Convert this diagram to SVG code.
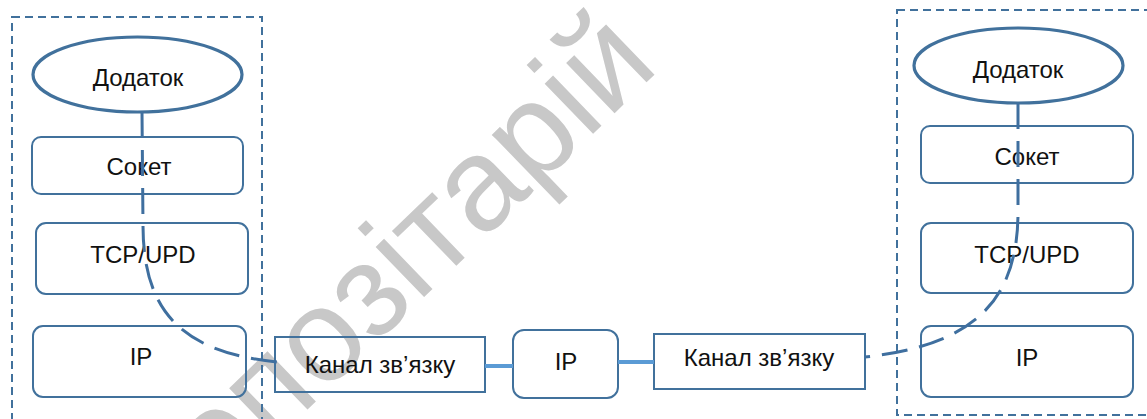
<svg xmlns="http://www.w3.org/2000/svg" width="1147" height="419" viewBox="0 0 1147 419">
  <style>
    .frame { fill: none; stroke: #41719c; stroke-width: 2; stroke-dasharray: 8 5; }
    .app { fill: none; stroke: #41719c; stroke-width: 3.2; }
    .layer { fill: none; stroke: #41719c; stroke-width: 2; }
    .chan { fill: none; stroke: #41719c; stroke-width: 2; }
    .lbl { font-family: "Liberation Sans", Arial, sans-serif; font-size: 24px; fill: #111; text-anchor: middle; }
    .path { fill: none; stroke: #3f6f9f; stroke-width: 3; stroke-dasharray: 26 12; }
    .link { fill: none; stroke: #5b9bd5; stroke-width: 4; }
    .mark { font-family: "Liberation Sans", Arial, sans-serif; font-size: 132px; fill: #c8c8c8; }
  </style>

  <!-- background watermark -->
  <text class="mark" transform="translate(159 553) rotate(-44)">Репозітарій</text>

  <!-- host frames -->
  <rect id="host-left" class="frame" x="12" y="17" width="250" height="420"/>
  <rect id="host-right" class="frame" x="897" y="10" width="260" height="405"/>

  <!-- left stack -->
  <g id="app-left">
    <ellipse class="app" cx="137.5" cy="74.5" rx="104.5" ry="37.5"/>
    <text class="lbl" x="138" y="86">Додаток</text>
  </g>
  <g id="socket-left">
    <rect class="layer" x="32" y="137" width="211" height="57" rx="9"/>
    <text class="lbl" x="139" y="175">Сокет</text>
  </g>
  <g id="tcp-left">
    <rect class="layer" x="36" y="223" width="212" height="71" rx="10"/>
    <text class="lbl" x="143" y="263">TCP/UPD</text>
  </g>
  <g id="ip-left">
    <rect class="layer" x="33" y="326" width="213" height="71" rx="10"/>
    <text class="lbl" x="141" y="365">IP</text>
  </g>

  <!-- network path -->
  <g id="channel-1">
    <rect class="chan" x="275" y="337" width="210" height="55"/>
    <text class="lbl" x="380" y="373">Канал зв’язку</text>
  </g>
  <g id="ip-router">
    <rect class="layer" x="513" y="330" width="105" height="68" rx="11"/>
    <text class="lbl" x="566" y="370">IP</text>
  </g>
  <g id="channel-2">
    <rect class="chan" x="654" y="334" width="211" height="55"/>
    <text class="lbl" x="759" y="366">Канал зв’язку</text>
  </g>

  <!-- right stack -->
  <g id="app-right">
    <ellipse class="app" cx="1018.5" cy="65.5" rx="104.5" ry="37.5"/>
    <text class="lbl" x="1018" y="78">Додаток</text>
  </g>
  <g id="socket-right">
    <rect class="layer" x="921" y="126" width="212" height="57" rx="9"/>
    <text class="lbl" x="1027" y="165">Сокет</text>
  </g>
  <g id="tcp-right">
    <rect class="layer" x="921" y="223" width="212" height="70" rx="10"/>
    <text class="lbl" x="1027" y="263">TCP/UPD</text>
  </g>
  <g id="ip-right">
    <rect class="layer" x="921" y="326" width="212" height="71" rx="10"/>
    <text class="lbl" x="1027" y="366">IP</text>
  </g>

  <!-- connectors -->
  <g id="connectors">
    <path class="path" d="M142,112 L143,225 C143,310 180,352 277,362"/>
    <path class="path" d="M1018,103 L1018,215 C1017,300 975,345 865,357"/>
    <line class="link" x1="485" y1="366" x2="513" y2="366"/>
    <line class="link" x1="618" y1="362" x2="654" y2="362"/>
  </g>
</svg>
